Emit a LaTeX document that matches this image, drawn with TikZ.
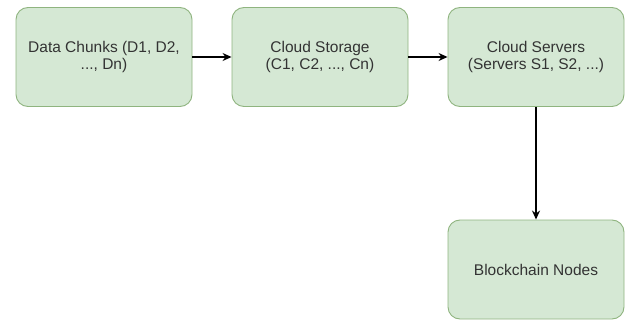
\documentclass[tikz,border=0pt]{standalone}
\usepackage{fontspec}
\setmainfont{Liberation Sans}
\usetikzlibrary{arrows.meta}
\definecolor{boxfill}{HTML}{D5E8D4}
\definecolor{boxline}{HTML}{8FB47F}
\definecolor{txt}{HTML}{333333}
\begin{document}
\begin{tikzpicture}[x=1pt,y=-1pt,
  box/.style={draw=boxline, fill=boxfill, line width=0.9pt, rounded corners=12pt,
    minimum width=176pt, minimum height=99pt, inner sep=0pt, align=center,
    text=txt, font=\fontsize{15.5pt}{17.5pt}\selectfont},
  conn/.style={line width=1.3pt, -{Stealth[length=9pt,width=8pt]}}]
\useasboundingbox (0,0) rectangle (627,321);
\node[box] (d) at (104,57) {Data Chunks (D1, D2,\\..., Dn)};
\node[box] (s) at (320,57) {Cloud Storage\\(C1, C2, ..., Cn)};
\node[box] (c) at (536,57) {Cloud Servers\\(Servers S1, S2, ...)};
\node[box] (b) at (536,269.5) {Blockchain Nodes};
\draw[conn] (d) -- (s);
\draw[conn] (s) -- (c);
\draw[conn] (c) -- (b);
\end{tikzpicture}
\end{document}
